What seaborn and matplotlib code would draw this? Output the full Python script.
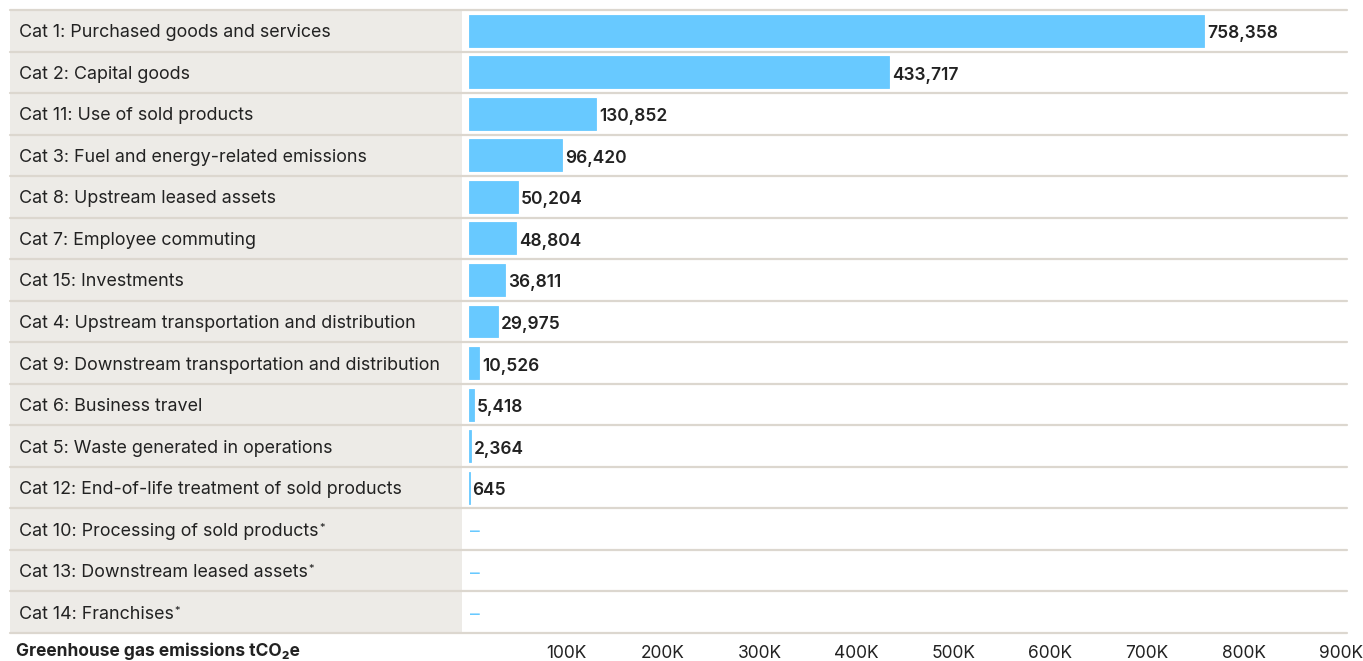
import matplotlib
matplotlib.use("Agg")
import matplotlib.pyplot as plt
import matplotlib.transforms as mtransforms
from matplotlib.patches import Rectangle
import numpy as np
import pandas as pd
import seaborn as sns

categories = [
    "Cat 1: Purchased goods and services",
    "Cat 2: Capital goods",
    "Cat 11: Use of sold products",
    "Cat 3: Fuel and energy-related emissions",
    "Cat 8: Upstream leased assets",
    "Cat 7: Employee commuting",
    "Cat 15: Investments",
    "Cat 4: Upstream transportation and distribution",
    "Cat 9: Downstream transportation and distribution",
    "Cat 6: Business travel",
    "Cat 5: Waste generated in operations",
    "Cat 12: End-of-life treatment of sold products",
    "Cat 10: Processing of sold products*",
    "Cat 13: Downstream leased assets*",
    "Cat 14: Franchises*",
]
emissions = [758358, 433717, 130852, 96420, 50204, 48804, 36811, 29975,
             10526, 5418, 2364, 645, np.nan, np.nan, np.nan]
tick_values = [100000, 200000, 300000, 400000, 500000, 600000, 700000, 800000, 900000]
tick_labels = ["100K", "200K", "300K", "400K", "500K", "600K", "700K", "800K", "900K"]
axis_title = "Greenhouse gas emissions tCO\u2082e"

BAR = "#68c9ff"
PANEL = "#edebe7"
SEP = "#dcd7cf"
TXT = "#222222"
FONT = ["Inter", "DejaVu Sans"]

sns.set_theme(style="white")
plt.rcParams["font.family"] = FONT

W, H = 1363, 661
fig = plt.figure(figsize=(W / 100, H / 100), dpi=100)
x0, x1 = 469, 1341
ytop, ybot = 10, 633
ax = fig.add_axes([x0 / W, (H - ybot) / H, (x1 - x0) / W, (ybot - ytop) / H])
ax.patch.set_alpha(0)

# gray label panel (behind the axes)
fig.patches.append(Rectangle((10 / W, (H - ybot) / H), (462 - 10) / W,
                             (ybot - ytop) / H, transform=fig.transFigure,
                             facecolor=PANEL, edgecolor="none", zorder=-5))

df = pd.DataFrame({"category": categories, "value": emissions})
sns.barplot(data=df, y="category", x="value", orient="h", color=BAR,
            saturation=1, width=0.77, ax=ax, order=categories,
            edgecolor=BAR, linewidth=0.6)
ax.set_xlim(0, 900000)
ax.set_ylim(len(categories) - 0.5, -0.5)

axw = x1 - x0
xmin = (10 - x0) / axw
xmax = (1347 - x0) / axw
for b in np.arange(-0.5, len(categories) + 0.5, 1.0):
    ax.axhline(b, xmin=xmin, xmax=xmax, color=SEP, lw=1.6, clip_on=False, zorder=3)

trans = mtransforms.blended_transform_factory(ax.transAxes, ax.transData)
for i, (cat, v) in enumerate(zip(categories, emissions)):
    label = cat.rstrip("*")
    t = ax.annotate(label, xy=((19 - x0) / axw, i), xycoords=trans,
                    xytext=(0, -2), textcoords="offset pixels", ha="left",
                    va="center", fontsize=12.9, color=TXT,
                    annotation_clip=False, zorder=4)
    if cat.endswith("*"):
        ax.annotate("*", xy=(1, 1), xycoords=t, xytext=(0.5, 0),
                    textcoords="offset points", ha="left", va="top",
                    fontsize=8, color=TXT, annotation_clip=False, zorder=4)
    if np.isnan(v):
        ax.annotate("\u2013", xy=(0, i), xytext=(1, -3), textcoords="offset pixels",
                    ha="left", va="center", fontsize=14, color=BAR)
    else:
        ax.annotate(f"{int(v):,}", xy=(v, i), xytext=(3, -3),
                    textcoords="offset pixels", ha="left", va="center",
                    fontsize=12.5, fontweight="semibold", color=TXT)

ax.set_xticks(tick_values)
ax.set_xticklabels(tick_labels, fontsize=12.5, color=TXT)
ax.set_yticks([])
ax.tick_params(axis="x", length=0, pad=9)
ax.set_xlabel("")
ax.set_ylabel("")
for s in ax.spines.values():
    s.set_visible(False)

fig.text(16 / W, (H - 651) / H, axis_title, ha="left", va="center",
         fontsize=12.5, fontweight="bold", color=TXT)

fig.savefig("out.png", dpi=100)
